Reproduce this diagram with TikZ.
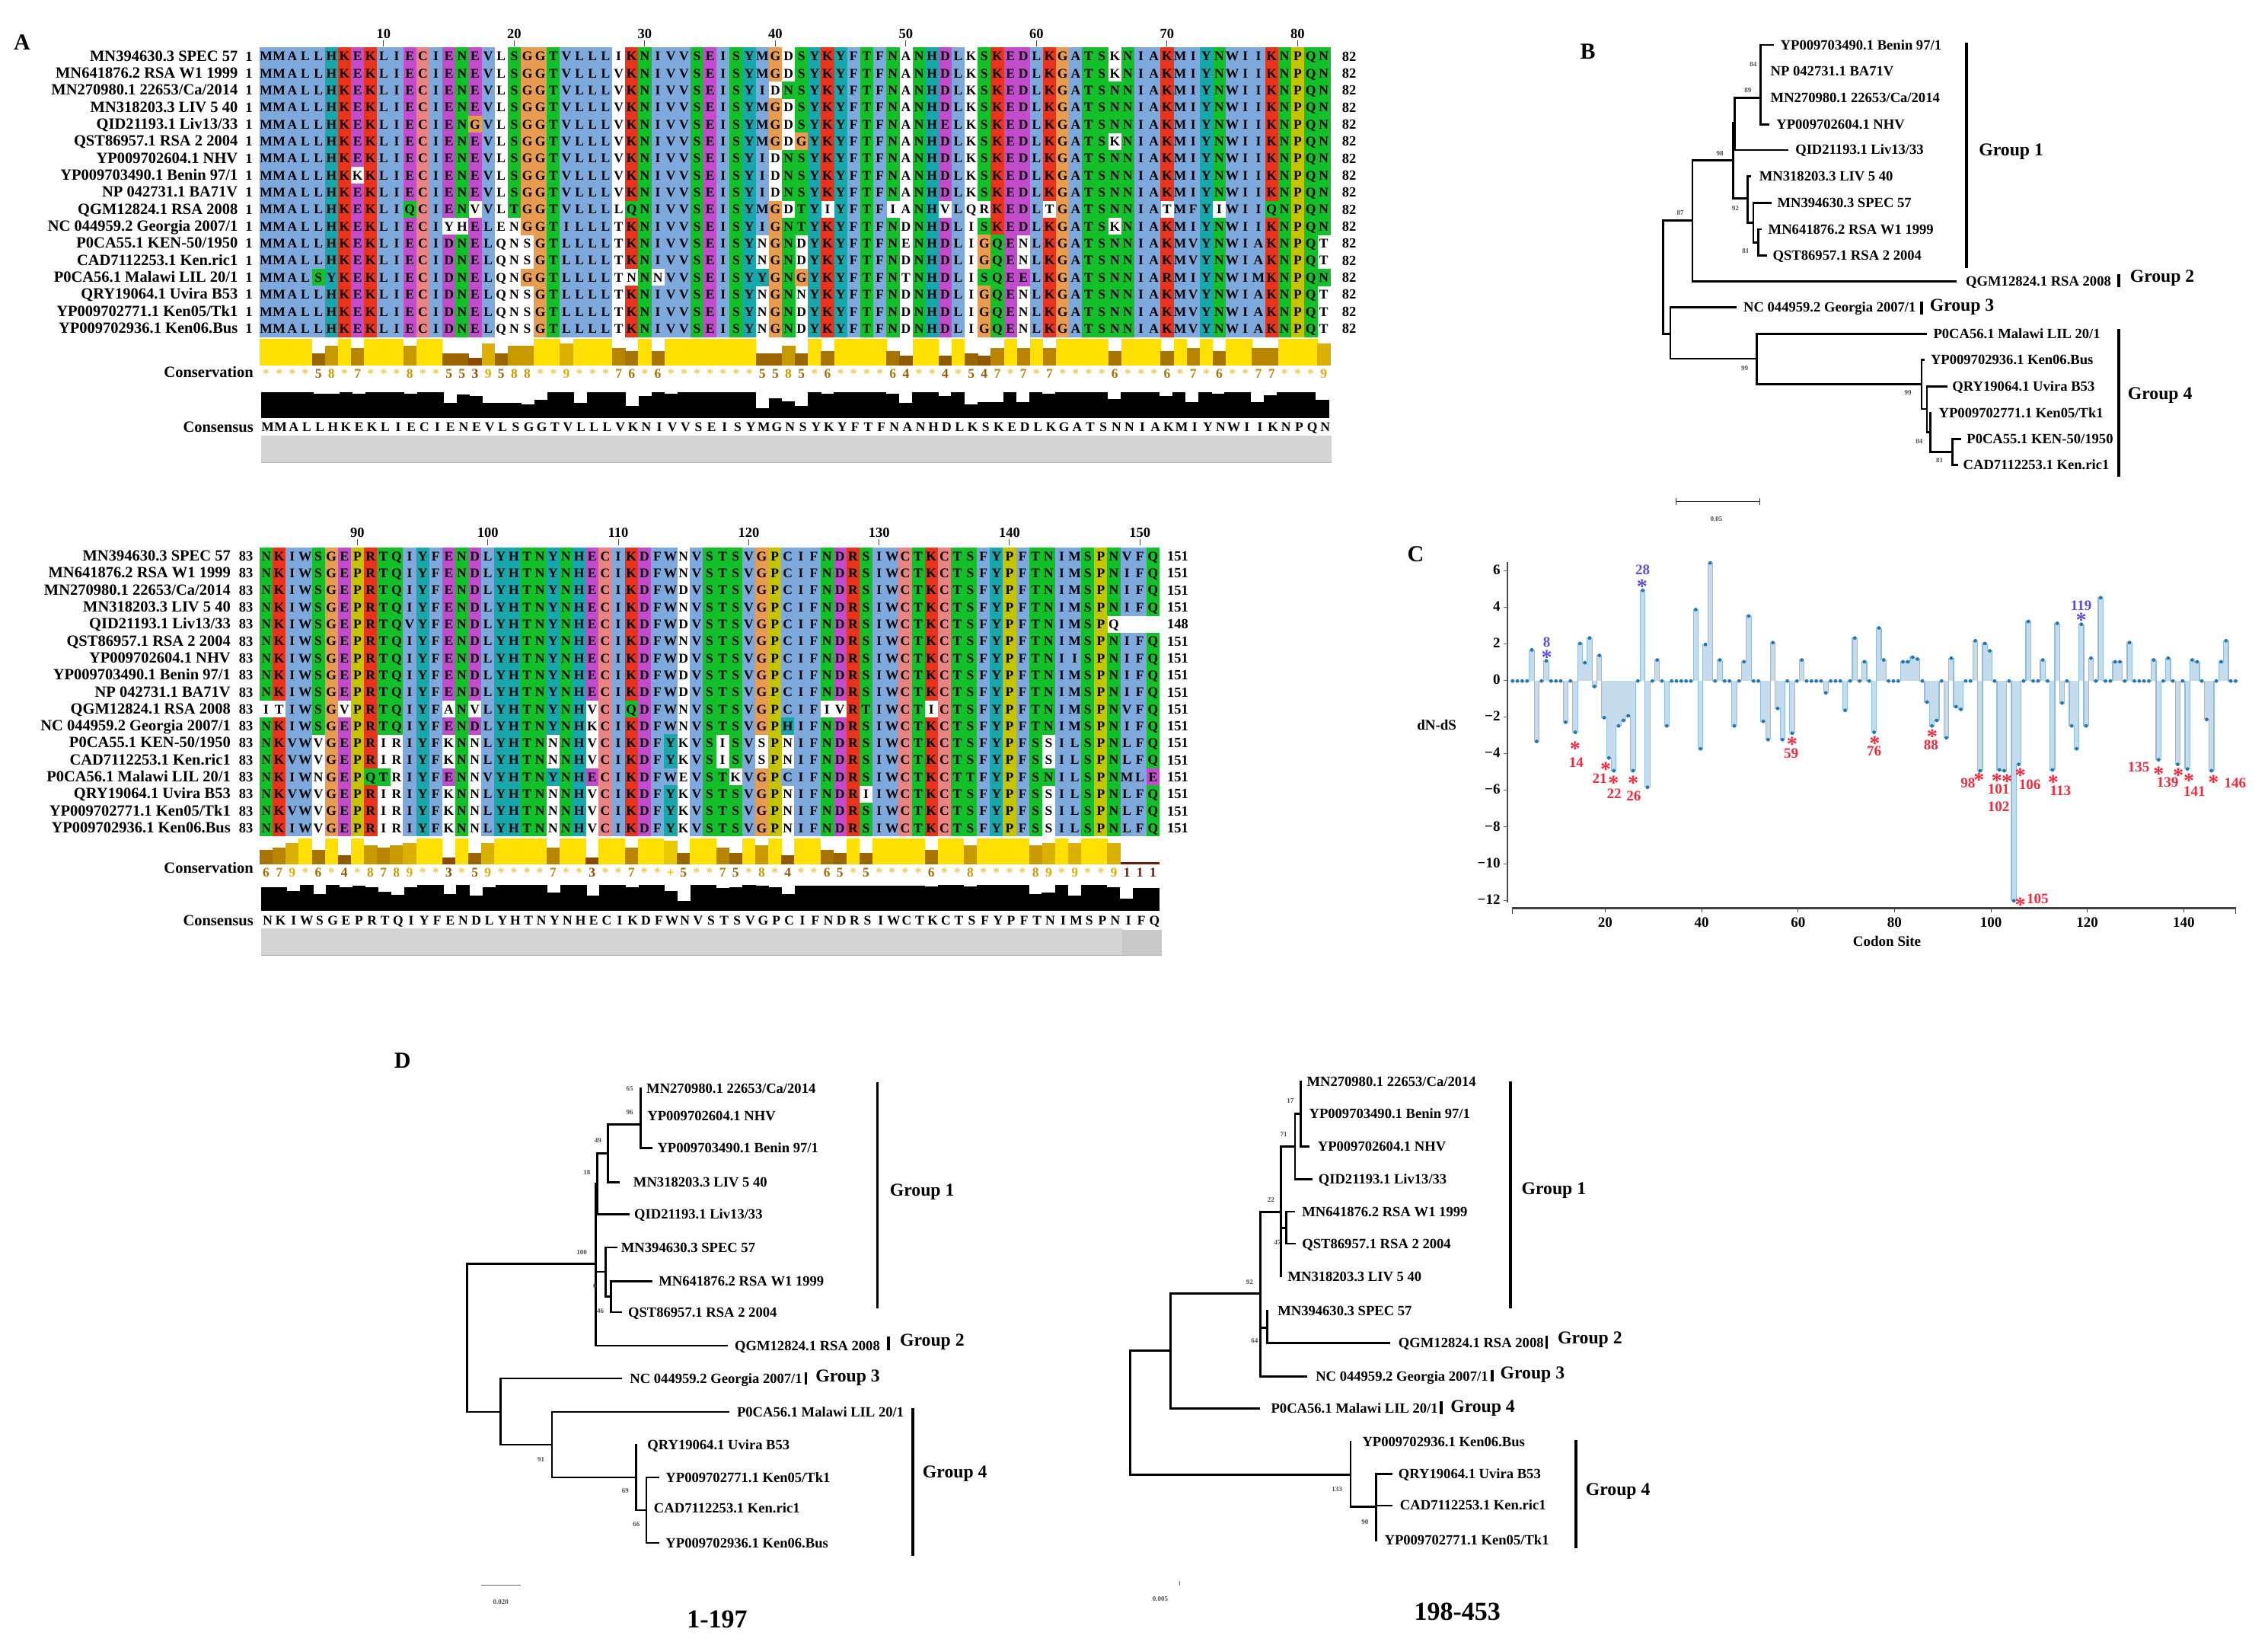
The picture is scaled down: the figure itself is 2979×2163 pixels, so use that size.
\documentclass[tikz,border=0pt]{standalone}
\usepackage{fontspec}
\setmainfont{Liberation Serif}
\definecolor{msab}{HTML}{7DA9DD}\definecolor{msag}{HTML}{14C02A}\definecolor{msar}{HTML}{E8341C}
\definecolor{msam}{HTML}{C24CCC}\definecolor{msao}{HTML}{E89C50}\definecolor{msac}{HTML}{18A8AC}
\definecolor{msay}{HTML}{C4C400}\definecolor{msap}{HTML}{E88484}
\definecolor{cons1}{HTML}{6B1A0A}\definecolor{cons2}{HTML}{7A3000}\definecolor{cons3}{HTML}{8A4A00}
\definecolor{cons4}{HTML}{8F5A00}\definecolor{cons5}{HTML}{9B6500}\definecolor{cons6}{HTML}{A87300}
\definecolor{cons7}{HTML}{B98500}\definecolor{cons8}{HTML}{C89A00}\definecolor{cons9}{HTML}{DCB000}
\definecolor{cons10}{HTML}{ECC800}\definecolor{cons11}{HTML}{FFE000}
\definecolor{txt1}{HTML}{6B1A0A}\definecolor{txt2}{HTML}{7A3000}\definecolor{txt3}{HTML}{8A4A00}
\definecolor{txt4}{HTML}{8F5A00}\definecolor{txt5}{HTML}{9B6500}\definecolor{txt6}{HTML}{A87300}
\definecolor{txt7}{HTML}{B98500}\definecolor{txt8}{HTML}{C89A00}\definecolor{txt9}{HTML}{DCB000}
\definecolor{txt10}{HTML}{ECC800}\definecolor{txt11}{HTML}{EFC850}
\definecolor{chfill}{HTML}{C6DCEC}\definecolor{chline}{HTML}{8FBFE0}\definecolor{chdot}{HTML}{1F77B4}
\definecolor{redst}{HTML}{F8283C}\definecolor{bluest}{HTML}{5A50D8}
\newcount\nid
\newcount\msaC
\tikzset{
 anon/.code={\global\advance\nid by 1\relax\tikzset{name=n\the\nid}},
 resid/.style={anon,inner sep=0pt,anchor=base,font=\fontsize{17.5}{20}\bfseries\selectfont},
 namelab/.style={anon,inner sep=0pt,anchor=base east,font=\fontsize{20.5}{22}\bfseries\selectfont},
 numlab/.style={anon,inner sep=0pt,anchor=base,font=\fontsize{18.5}{22}\bfseries\selectfont},
 panel/.style={anon,inner sep=0pt,font=\fontsize{30}{32}\bfseries\selectfont},
 leaflab/.style={anon,inner sep=0pt,anchor=base west,yshift=-6pt,font=\fontsize{18.6}{20}\bfseries\selectfont},
 grplab/.style={anon,inner sep=0pt,anchor=west,font=\fontsize{23.7}{26}\bfseries\selectfont},
 boot/.style={anon,inner sep=0pt,text=black!70,font=\fontsize{9}{10}\bfseries\selectfont},
 branch/.style={line width=2.8pt,line cap=rect,black},
 grpline/.style={line width=3.6pt,black},
 titlelab/.style={anon,inner sep=0pt,font=\fontsize{34}{36}\bfseries\selectfont},
 clab/.style={anon,inner sep=0pt,font=\fontsize{19}{22}\bfseries\selectfont},
 redlab/.style={anon,inner sep=0pt,text=redst,font=\fontsize{19}{22}\bfseries\selectfont},
 redstar/.style={anon,inner sep=0pt,text=redst,yshift=-5pt,font=\fontsize{28}{30}\bfseries\selectfont},
 bluelab/.style={anon,inner sep=0pt,text=bluest,font=\fontsize{19}{22}\bfseries\selectfont},
 bluestar/.style={anon,inner sep=0pt,text=bluest,yshift=-5pt,font=\fontsize{28}{30}\bfseries\selectfont},
}
% residue colour map: capitals coloured, small letters white
\foreach \u/\l in {A/a,B/b,C/c,D/d,E/e,F/f,G/g,H/h,I/i,J/j,K/k,L/l,M/m,N/n,O/o,P/p,Q/q,R/r,S/s,T/t,U/u,V/v,W/w,X/x,Y/y}{%
 \expandafter\xdef\csname mt@\u\endcsname{\u}\expandafter\xdef\csname mt@\l\endcsname{\u}%
 \expandafter\xdef\csname mc@\l\endcsname{white}}
\def\msawhite{white}
\foreach \u in {A,I,L,M,F,W,V}{\expandafter\gdef\csname mc@\u\endcsname{msab}}
\foreach \u in {K,R}{\expandafter\gdef\csname mc@\u\endcsname{msar}}
\foreach \u in {E,D}{\expandafter\gdef\csname mc@\u\endcsname{msam}}
\foreach \u in {N,Q,S,T}{\expandafter\gdef\csname mc@\u\endcsname{msag}}
\foreach \u in {H,Y}{\expandafter\gdef\csname mc@\u\endcsname{msac}}
\expandafter\gdef\csname mc@G\endcsname{msao}
\expandafter\gdef\csname mc@P\endcsname{msay}
\expandafter\gdef\csname mc@C\endcsname{msap}
\expandafter\gdef\csname mc@Z\endcsname{msab}
\expandafter\gdef\csname mt@Z\endcsname{C}
\def\msacell#1{\advance\msaC by 1\relax
 \ifx#1.\else
  \pgfmathsetmacro\cx{\msaXo+(\the\msaC-1)*\msaW}%
  \edef\cc{\csname mc@#1\endcsname}%
  \ifx\cc\msawhite\else\fill[fill=\cc] (\cx,\msaYo) rectangle ++(\msaW+0.35,\msaH+0.35);\fi
  \node[resid] at (\cx+\msaW/2,\msaYo+\msaH/2+6.2) {\csname mt@#1\endcsname};
 \fi}
\def\msaloop#1{\ifx#1\relax\else\msacell{#1}\expandafter\msaloop\fi}
\def\msarow#1#2{\pgfmathsetmacro\msaYo{\msaTop+(#1-1)*\msaH}\msaC=0\relax\msaloop#2\relax}
% conservation
\foreach \d in {1,...,9}{\expandafter\xdef\csname cv@\d\endcsname{\d}}
\expandafter\gdef\csname cv@*\endcsname{11}
\expandafter\gdef\csname cv@+\endcsname{10}
\def\conscell#1{\advance\msaC by 1\relax
 \edef\cval{\csname cv@#1\endcsname}%
 \pgfmathsetmacro\cx{\msaXo+(\the\msaC-1)*\msaW}%
 \fill[fill=cons\cval] (\cx,\consBase) rectangle ++(\msaW+0.35,-\cval/11*\consH);
 \node[anon,inner sep=0pt,anchor=base,text=txt\cval,font=\fontsize{17.5}{20}\bfseries\selectfont] at (\cx+\msaW/2,\consBase+16.5) {#1};}
\def\consloop#1{\ifx#1\relax\else\conscell{#1}\expandafter\consloop\fi}
\def\lf#1#2#3#4#5{\coordinate (#1) at (#2,#4);\node[leaflab] at (#3,#4) {#5};}
\def\grp#1#2#3#4#5#6{\draw[grpline] (#1,#2) -- (#1,#3);\node[grplab] at (#4,#5) {#6};}
\def\cdata{0,0,0,0,1.7,-3.3,0,1.1,0,0,0,-2.25,0,-2.8,2.05,1.0,2.35,-0.3,1.4,-2.0,-4.2,-4.9,-2.45,-2.15,-1.9,-4.9,0,4.95,-5.8,0,1.15,0,-2.45,0,0,0,0,0,3.9,-3.7,2.0,6.45,0,1.15,0,0,-2.45,0,1.05,3.55,0,0,-2.2,-3.2,2.1,-1.5,-3.2,0,-2.85,0,1.15,0,0,0,0,-0.65,0,0,0,-1.6,0,2.35,0,1.05,0,-2.8,2.9,1.15,0,0,0,1.05,1.05,1.3,1.2,0,-1.15,-2.45,-2.15,0,-3.1,1.25,-1.4,-1.55,0,0,2.2,-4.9,2.05,1.65,0,-4.85,-4.9,0,-12,-4.55,0,3.25,0,0,1.15,0,-4.85,3.15,-1.2,0,-2.45,-3.7,3.1,-2.45,1.25,0,4.55,0,0,1.05,1.05,0,2.1,0,0,0,0,1.15,-4.3,0,1.25,0,-4.55,0,-4.8,1.15,1.05,0,-2.1,-4.9,0,1.05,2.2,0,0}
\begin{document}
\begin{tikzpicture}[x=1pt,y=-1pt]
\useasboundingbox (0,0) rectangle (2979,2163);
\fill[white] (0,0) rectangle (2979,2163);
%% ---------- panel A, block 1
\node[panel] at (29,56) {A};
\def\msaXo{341}\def\msaW{17.15}\def\msaH{22.35}\def\msaTop{62.4}
\msarow{1}{MMALLHKEKL IECIENEVlS GGTVLLLiKN IVVSEISYMG dSYKYFTFNa NHDLkSKEDL KGATSkNIAK MIYNWIIKNP QN}
\msarow{2}{MMALLHKEKL IECIENEVlS GGTVLLLvKN IVVSEISYMG dSYKYFTFNa NHDLkSKEDL KGATSkNIAK MIYNWIIKNP QN}
\msarow{3}{MMALLHKEKL IECIENEVlS GGTVLLLvKN IVVSEISYId NSYKYFTFNa NHDLkSKEDL KGATSNNIAK MIYNWIIKNP QN}
\msarow{4}{MMALLHKEKL IECIENEVlS GGTVLLLvKN IVVSEISYMG dSYKYFTFNa NHDLkSKEDL KGATSNNIAK MIYNWIIKNP QN}
\msarow{5}{MMALLHKEKL IECIENGVlS GGTVLLLvKN IVVSEISYMG dSYKYFTFNa NHELkSKEDL KGATSNNIAK MIYNWIIKNP QN}
\msarow{6}{MMALLHKEKL IECIENEVlS GGTVLLLvKN IVVSEISYMG dGYKYFTFNa NHDLkSKEDL KGATSkNIAK MIYNWIIKNP QN}
\msarow{7}{MMALLHKEKL IECIENEVlS GGTVLLLvKN IVVSEISYId NSYKYFTFNa NHDLkSKEDL KGATSNNIAK MIYNWIIKNP QN}
\msarow{8}{MMALLHKkKL IECIENEVlS GGTVLLLvKN IVVSEISYId NSYKYFTFNa NHDLkSKEDL KGATSNNIAK MIYNWIIKNP QN}
\msarow{9}{MMALLHKEKL IECIENEVlS GGTVLLLvKN IVVSEISYId NSYKYFTFNa NHDLkSKEDL KGATSNNIAK MIYNWIIKNP QN}
\msarow{10}{MMALLHKEKL IQCIENvVlT GGTVLLLlQN IVVSEISYMG dTYiYFTFia NHvLqrKEDL tGATSNNIAt MFYiWIIQNP QN}
\msarow{11}{MMALLHKEKL IECIyhELen GGTILLLtKN IVVSEISYIG NTYKYFTFNd NHDLiSKEDL KGATSkNIAK MIYNWIIKNP QN}
\msarow{12}{MMALLHKEKL IECIDNELqn sGTLLLLtKN IVVSEISYnG NdYKYFTFNe NHDLiGQEnL KGATSNNIAK MVYNWIAKNP Qt}
\msarow{13}{MMALLHKEKL IECIDNELqn sGTLLLLtKN IVVSEISYnG NdYKYFTFNd NHDLiGQEnL KGATSNNIAK MVYNWIAKNP Qt}
\msarow{14}{MMALSYKEKL IECIDNELqn GGTLLLLtnN nVVSEISYYG NGYKYFTFNt NHDLiSQEEL KGATSNNIAR MIYNWIMKNP QN}
\msarow{15}{MMALLHKEKL IECIDNELqn sGTLLLLtKN IVVSEISYnG NnYKYFTFNd NHDLiGQEnL KGATSNNIAK MVYNWIAKNP Qt}
\msarow{16}{MMALLHKEKL IECIDNELqn sGTLLLLtKN IVVSEISYnG NdYKYFTFNd NHDLiGQEnL KGATSNNIAK MVYNWIAKNP Qt}
\msarow{17}{MMALLHKEKL IECIDNELqn sGTLLLLtKN IVVSEISYnG NdYKYFTFNd NHDLiGQEnL KGATSNNIAK MVYNWIAKNP Qt}
\foreach \t [count=\i] in {MN394630.3 SPEC 57,MN641876.2 RSA W1 1999,MN270980.1 22653/Ca/2014,MN318203.3 LIV 5 40,QID21193.1 Liv13/33,QST86957.1 RSA 2 2004,YP009702604.1 NHV,YP009703490.1 Benin 97/1,NP 042731.1 BA71V,QGM12824.1 RSA 2008,NC 044959.2 Georgia 2007/1,P0CA55.1 KEN-50/1950,CAD7112253.1 Ken.ric1,P0CA56.1 Malawi LIL 20/1,QRY19064.1 Uvira B53,YP009702771.1 Ken05/Tk1,YP009702936.1 Ken06.Bus}{
 \node[namelab] at (312.5,62.4+\i*22.35-11.2+6.5) {\t};
 \node[numlab] at (327,62.4+\i*22.35-11.2+6.5) {1};
 \node[numlab] at (1772,62.4+\i*22.35-11.2+6.5) {82};
}
\foreach \k in {10,20,...,80}{
 \pgfmathsetmacro\tx{341+(\k-0.5)*17.15}
 \draw[line width=1pt,black!70] (\tx,52.6) -- (\tx,60.8);
 \node[numlab] at (\tx,50) {\k};
}
\def\consBase{480}\def\consH{35.5}\msaC=0\relax
\consloop****58*7***8**55395 88**9***76*6*******55 85*6****64**4*547*7*7****6***6*7*6**77***9\relax
\foreach \d [count=\i] in {0,0,0,0,6,6,0,6,0,0,0,6,0,0,36,8,13,36,36,36,40,26,0,0,36,0,0,0,46,13,0,6,0,0,0,0,0,0,53,21,31,46,0,6,0,0,0,0,6,36,0,0,13,0,40,33,33,0,33,0,6,0,0,0,0,23,0,0,0,13,0,33,0,6,0,0,33,10,0,0,0,26}{
 \fill[black] (343+\i*17.1-17.1,549.4) rectangle ++(17.45,-34.7+\d/2.45);
}
\node[namelab] at (333,495) {Conservation};
\node[namelab] at (333,567) {Consensus};
\def\msaXo{343}\def\msaTop{549.6}
\msarow{1}{mmallhkekl iecienevls ggtvlllvkn ivvseisymg nsykyftfna nhdlkskedl kgatsnniak miynwiiknp qn}
\fill[black!17] (343,572) rectangle (1749,607.7);
\draw[line width=1.5pt,black!30] (343,607.7) -- (1749,607.7);
%% ---------- panel A, block 2
\def\msaXo{341}\def\msaW{17.13}\def\msaH{22.3}\def\msaTop{719}
\msarow{1}{NKIWSGEPRT QIYFENDLYH TNYNHECIKD FWnVSTSVGP ZIFNDRSIWC TKCTSFYPFT NIMSPNVFQ}
\msarow{2}{NKIWSGEPRT QIYFENDLYH TNYNHECIKD FWnVSTSVGP ZIFNDRSIWC TKCTSFYPFT NIMSPNIFQ}
\msarow{3}{NKIWSGEPRT QIYFENDLYH TNYNHECIKD FWdVSTSVGP ZIFNDRSIWC TKCTSFYPFT NIMSPNIFQ}
\msarow{4}{NKIWSGEPRT QIYFENDLYH TNYNHECIKD FWnVSTSVGP ZIFNDRSIWC TKCTSFYPFT NIMSPNIFQ}
\msarow{5}{NKIWSGEPRT QVYFENDLYH TNYNHECIKD FWdVSTSVGP ZIFNDRSIWC TKCTSFYPFT NIMSPq...}
\msarow{6}{NKIWSGEPRT QIYFENDLYH TNYNHECIKD FWnVSTSVGP ZIFNDRSIWC TKCTSFYPFT NIMSPNIFQ}
\msarow{7}{NKIWSGEPRT QIYFENDLYH TNYNHECIKD FWdVSTSVGP ZIFNDRSIWC TKCTSFYPFT NIISPNIFQ}
\msarow{8}{NKIWSGEPRT QIYFENDLYH TNYNHECIKD FWdVSTSVGP ZIFNDRSIWC TKCTSFYPFT NIMSPNIFQ}
\msarow{9}{NKIWSGEPRT QIYFENDLYH TNYNHECIKD FWdVSTSVGP ZIFNDRSIWC TKCTSFYPFT NIMSPNIFQ}
\msarow{10}{itIWSGvPRT QIYFaNvLYH TNYNHvCIQD FWnVSTSVGP ZIFivRTIWC TiCTSFYPFT NIMSPNVFQ}
\msarow{11}{NKIWSGEPRT QIYFENDLYH TNYNHkCIKD FWnVSTSVGP HIFNDRSIWC TKCTSFYPFT NIMSPNIFQ}
\msarow{12}{NKVWvGEPRi rIYFkNnLYH TNnNHvCIKD FYkVSiSVsP nIFNDRSIWC TKCTSFYPFS sILSPNLFQ}
\msarow{13}{NKVWvGEPRi rIYFkNnLYH TNnNHvCIKD FYkVSiSVsP nIFNDRSIWC TKCTSFYPFS sILSPNLFQ}
\msarow{14}{NKIWnGEPQT rIYFENnVYH TNYNHECIKD FWeVSTkVGP ZIFNDRSIWC TKCTTFYPFS NILSPNMLE}
\msarow{15}{NKVWvGEPRi rIYFkNnLYH TNnNHvCIKD FYkVSTSVGP nIFNDRiIWC TKCTSFYPFS sILSPNLFQ}
\msarow{16}{NKVWvGEPRi rIYFkNnLYH TNnNHvCIKD FYkVSTSVGP nIFNDRSIWC TKCTSFYPFS sILSPNLFQ}
\msarow{17}{NKIWvGEPRi rIYFkNnLYH TNnNHvCIKD FYkVSTSVGP nIFNDRSIWC TKCTSFYPFS sILSPNLFQ}
\foreach \t [count=\i] in {MN394630.3 SPEC 57,MN641876.2 RSA W1 1999,MN270980.1 22653/Ca/2014,MN318203.3 LIV 5 40,QID21193.1 Liv13/33,QST86957.1 RSA 2 2004,YP009702604.1 NHV,YP009703490.1 Benin 97/1,NP 042731.1 BA71V,QGM12824.1 RSA 2008,NC 044959.2 Georgia 2007/1,P0CA55.1 KEN-50/1950,CAD7112253.1 Ken.ric1,P0CA56.1 Malawi LIL 20/1,QRY19064.1 Uvira B53,YP009702771.1 Ken05/Tk1,YP009702936.1 Ken06.Bus}{
 \node[namelab] at (303,719+\i*22.3-11.2+6.5) {\t};
 \node[numlab] at (323,719+\i*22.3-11.2+6.5) {83};
}
\foreach \e [count=\i] in {151,151,151,151,148,151,151,151,151,151,151,151,151,151,151,151,151}{
 \node[numlab] at (1547,719+\i*22.3-11.2+6.5) {\e};
}
\foreach \k in {90,100,...,150}{
 \pgfmathsetmacro\tx{341+(\k-82.5)*17.13}
 \draw[line width=1pt,black!70] (\tx,707.5) -- (\tx,716);
 \node[numlab] at (\tx,705) {\k};
}
\def\consBase{1135.3}\def\consH{34.7}\msaC=0\relax
\consloop679*6*4*87 89**3*59** **7**3**7* *+5**75*8* 4**65*5*** *6**8****8 9*9**9111\relax
\foreach \d [count=\i] in {7,7,20,0,30,0,7,3,7,23,33,7,0,0,30,0,35,7,0,0,0,0,25,0,0,35,0,0,7,0,0,20,53,0,0,10,7,0,3,7,30,2,2,2,2,2,2,2,2,2,2,5,0,0,5,0,0,0,0,30,25,0,35,0,0,7,45,10,10}{
 \fill[black] (343+\i*17.09-17.09,1195.7) rectangle ++(17.4,-33.9+\d/2.45);
}
\node[namelab] at (333,1146) {Conservation};
\node[namelab] at (333,1215) {Consensus};
\def\msaXo{343}\def\msaTop{1197.6}
\msarow{1}{nkiwsgeprt qiyfendlyh tnynhecikd fwnvstsvgp cifndrsiwc tkctsfypft nimspnifq}
\fill[black!17] (343,1219) rectangle (1474,1254.5);
\fill[black!21] (1474,1221) rectangle (1526,1254.5);
\draw[line width=1.5pt,black!30] (343,1254.5) -- (1526,1254.5);
%% ---------- panel B
\begin{scope}[shift={(2050,20)},x=0.5924pt,y=-0.4337pt]
\node[panel] at (60,110) {B};
\lf{bBen}{470}{487}{90}{YP009703490.1 Benin 97/1}
\lf{bNP}{443}{465}{170}{NP 042731.1 BA71V}
\lf{bMN27}{443}{465}{250}{MN270980.1 22653/Ca/2014}
\lf{bNHV}{460}{478}{330}{YP009702604.1 NHV}
\lf{bQID}{503}{520}{408}{QID21193.1 Liv13/33}
\lf{bMN31}{420}{440}{488}{MN318203.3 LIV 5 40}
\lf{bSPEC}{466}{480}{568}{MN394630.3 SPEC 57}
\lf{bW1}{443}{460}{648}{MN641876.2 RSA W1 1999}
\lf{bQST}{455}{470}{727}{QST86957.1 RSA 2 2004}
\lf{bQGM}{875}{898}{805}{QGM12824.1 RSA 2008}
\lf{bNC}{388}{405}{885}{NC 044959.2 Georgia 2007/1}
\lf{bP56}{810}{826}{965}{P0CA56.1 Malawi LIL 20/1}
\lf{b936}{805}{820}{1044}{YP009702936.1 Ken06.Bus}
\lf{bQRY}{855}{868}{1124}{QRY19064.1 Uvira B53}
\lf{b771}{820}{838}{1204}{YP009702771.1 Ken05/Tk1}
\lf{bP55}{885}{900}{1283}{P0CA55.1 KEN-50/1950}
\lf{bCAD}{878}{892}{1362}{CAD7112253.1 Ken.ric1}
\coordinate (br) at (227,965);\coordinate (ba) at (292,622);\coordinate (bb) at (382,440);
\coordinate (bc) at (385,325);\coordinate (bd) at (443,250);\coordinate (be) at (415,555);
\coordinate (bf) at (427,628);\coordinate (bg) at (438,688);\coordinate (bh) at (243,965);
\coordinate (bi) at (435,1040);\coordinate (bj) at (800,1118);\coordinate (bk) at (812,1192);
\coordinate (bm) at (820,1262);\coordinate (bl) at (868,1322);
\foreach \p/\c in {br/ba,br/bh,ba/bb,ba/bQGM,bb/bc,bb/be,bc/bd,bc/bQID,bd/bBen,bd/bNP,bd/bMN27,bd/bNHV,be/bMN31,be/bf,bf/bSPEC,bf/bg,bg/bW1,bg/bQST,bh/bNC,bh/bi,bi/bP56,bi/bj,bj/b936,bj/bk,bk/bQRY,bk/bm,bm/b771,bm/bl,bl/bP55,bl/bCAD}{
 \draw[branch] (\p) |- (\c);
}
\foreach \x/\y/\t in {427/148/84,415/228/89,353/418/98,265/598/87,387/585/92,410/714/81,408/1068/99,770/1143/99,795/1290/84,840/1348/81}{\node[boot] at (\x,\y) {\t};}
\grp{900}{83}{765}{927}{412}{Group 1}
\grp{1237}{785}{822}{1262}{797}{Group 2}
\grp{800}{868}{905}{818}{883}{Group 3}
\grp{1237}{950}{1397}{1257}{1152}{Group 4}
\coordinate (bs1) at (255,1472);\coordinate (bs2) at (442,1472);
\draw[line width=1.2pt,black!80,|-|] (bs1) -- (bs2);
\node[boot] at (345,1525) {0.05};
\end{scope}
%% ---------- panel C
\begin{scope}[shift={(1830,700)},x=0.7328pt,y=-0.37pt]
\node[panel] at (40,75) {C};
\foreach \v [count=\s] in \cdata {
 \pgfmathsetmacro\xx{378+(\s-20)*8.64}
 \pgfmathsetmacro\yy{525-65*\v}
 \fill[chfill] (\xx-4.42,525) rectangle (\xx+4.42,\yy);
}
\foreach \v [count=\s,remember=\v as \vp (initially 0)] in \cdata {
 \pgfmathsetmacro\xx{378+(\s-20)*8.64}
 \pgfmathsetmacro\yy{525-65*\v}
 \pgfmathsetmacro\yp{525-65*\vp}
 \draw[chline,line width=1.2pt] (\xx-4.32,\yp) -- (\xx-4.32,\yy) -- (\xx+4.32,\yy);
}
\foreach \v [count=\s] in \cdata {
 \pgfmathsetmacro\xx{378+(\s-20)*8.64}
 \pgfmathsetmacro\yy{525-65*\v}
 \fill[chdot] (\xx,\yy) circle[radius=2.4pt];
}
\coordinate (cy1) at (205,103);\coordinate (cy2) at (205,1310);
\draw[line width=1.6pt,black!70] (cy1) -- (cy2);
\foreach \v/\t in {6/6,4/4,2/2,0/0,-2/−2,-4/−4,-6/−6,-8/−8,-10/−10,-12/−12}{
 \pgfmathsetmacro\yy{520-65*\v}
 \draw[line width=1pt,black!60] (198,\yy+3) -- (205,\yy+3);
 \node[clab,anchor=east] at (192,\yy) {\t};
}
\coordinate (cx1) at (213,1330);\coordinate (cx2) at (1510,1330);
\draw[line width=3pt,black!75] (cx1) -- (cx2);
\draw[line width=1pt,black!75] (213,1330) -- (213,1350) (1510,1330) -- (1510,1350);
\foreach \k in {20,40,...,140}{
 \pgfmathsetmacro\xx{380+(\k-20)*8.64}
 \draw[line width=1pt,black!75] (\xx,1330) -- (\xx,1345);
 \node[clab] at (\xx,1382) {\k};
}
\node[clab] at (885,1448) {Codon Site};
\node[clab] at (78,682) {dN-dS};
\foreach \x/\y in {275/428,446/177,1233/296}{\node[bluestar] at (\x,\y) {*};}
\foreach \x/\y/\t in {275/388/8,447/130/28,1233/258/119}{\node[bluelab] at (\x,\y) {\t};}
\foreach \x/\y in {326/752,381/825,395/873,430/875,715/737,863/732,966/710,1050/862,1082/865,1100/867,1124/847,1183/870,1372/842,1407/847,1426/866,1470/872,1124/1305}{\node[redstar] at (\x,\y) {*};}
\foreach \x/\y/\t in {328/815/14,370/870/21,396/925/22,431/932/26,713/783/59,862/775/76,964/753/88,1030/888/98,1085/910/101,1085/970/102,1141/893/106,1196/914/113,1336/830/135,1388/885/139,1436/918/141,1509/886/146,1155/1298/105}{\node[redlab] at (\x,\y) {\t};}
\end{scope}
%% ---------- panel D, left tree
\begin{scope}[shift={(500,1370)},x=0.574pt,y=-0.5058pt]
\node[panel] at (50,45) {D};
\lf{lMN27}{595}{608}{118}{MN270980.1 22653/Ca/2014}
\lf{lNHV}{595}{610}{188}{YP009702604.1 NHV}
\lf{lBen}{620}{633}{272}{YP009703490.1 Benin 97/1}
\lf{lMN31}{545}{578}{360}{MN318203.3 LIV 5 40}
\lf{lQID}{568}{580}{444}{QID21193.1 Liv13/33}
\lf{lSPEC}{540}{550}{530}{MN394630.3 SPEC 57}
\lf{lW1}{620}{636}{617}{MN641876.2 RSA W1 1999}
\lf{lQST}{550}{566}{698}{QST86957.1 RSA 2 2004}
\lf{lQGM}{792}{810}{785}{QGM12824.1 RSA 2008}
\lf{lNC}{550}{570}{870}{NC 044959.2 Georgia 2007/1}
\lf{lP56}{795}{815}{957}{P0CA56.1 Malawi LIL 20/1}
\lf{lQRY}{585}{610}{1042}{QRY19064.1 Uvira B53}
\lf{l771}{635}{652}{1127}{YP009702771.1 Ken05/Tk1}
\lf{lCAD}{608}{625}{1207}{CAD7112253.1 Ken.ric1}
\lf{l936}{635}{652}{1297}{YP009702936.1 Ken06.Bus}
\coordinate (lr) at (198,957);\coordinate (la) at (492,573);\coordinate (lp) at (495,365);
\coordinate (lq) at (520,285);\coordinate (lu) at (595,210);\coordinate (ls) at (515,593);
\coordinate (lv) at (527,657);\coordinate (ln) at (275,957);\coordinate (lw) at (392,1042);
\coordinate (lx) at (585,1127);\coordinate (ly) at (608,1212);
\foreach \p/\c in {lr/la,lr/ln,la/lQGM,la/lp,la/ls,lp/lq,lp/lQID,lq/lu,lq/lMN31,lu/lMN27,lu/lNHV,lu/lBen,ls/lSPEC,ls/lv,lv/lW1,lv/lQST,ln/lNC,ln/lw,lw/lP56,lw/lx,lx/lQRY,lx/ly,ly/l771,ly/lCAD,ly/l936}{
 \draw[branch] (\p) |- (\c);
}
\foreach \x/\y/\t in {570/117/65,570/180/96,497/253/49,472/335/18,460/543/100,490/630/6,503/695/46,367/1080/91,560/1162/69,585/1248/66}{\node[boot] at (\x,\y) {\t};}
\grp{1137}{100}{688}{1165}{385}{Group 1}
\grp{1162}{762}{797}{1188}{776}{Group 2}
\grp{973}{855}{885}{995}{868}{Group 3}
\grp{1218}{947}{1330}{1240}{1118}{Group 4}
\coordinate (ls1) at (230,1407);\coordinate (ls2) at (320,1407);
\draw[line width=1pt,black!60] (ls1) -- (ls2);
\node[boot] at (275,1450) {0.020};
\node[titlelab] at (770,1495) {1-197};
\end{scope}
%% ---------- panel D, right tree
\begin{scope}[shift={(1450,1370)},x=0.5102pt,y=-0.5058pt]
\lf{rMN27}{507}{522}{100}{MN270980.1 22653/Ca/2014}
\lf{rBen}{507}{528}{183}{YP009703490.1 Benin 97/1}
\lf{rNHV}{527}{550}{268}{YP009702604.1 NHV}
\lf{rQID}{535}{552}{353}{QID21193.1 Liv13/33}
\lf{rW1}{490}{510}{437}{MN641876.2 RSA W1 1999}
\lf{rQST}{492}{510}{520}{QST86957.1 RSA 2 2004}
\lf{rMN31}{455}{473}{605}{MN318203.3 LIV 5 40}
\lf{rSPEC}{420}{447}{695}{MN394630.3 SPEC 57}
\lf{rQGM}{735}{758}{778}{QGM12824.1 RSA 2008}
\lf{rNC}{520}{545}{865}{NC 044959.2 Georgia 2007/1}
\lf{rP56}{400}{430}{948}{P0CA56.1 Malawi LIL 20/1}
\lf{r936}{635}{665}{1035}{YP009702936.1 Ken06.Bus}
\lf{rQRY}{740}{758}{1118}{QRY19064.1 Uvira B53}
\lf{rCAD}{740}{762}{1200}{CAD7112253.1 Ken.ric1}
\lf{r771}{700}{722}{1290}{YP009702771.1 Ken05/Tk1}
\coordinate (rr) at (68,1120);\coordinate (ra) at (172,798);\coordinate (rb) at (635,1120);
\coordinate (rc) at (403,650);\coordinate (rd) at (420,738);\coordinate (re) at (455,438);
\coordinate (rf) at (492,268);\coordinate (rg) at (470,480);\coordinate (rh) at (507,183);
\coordinate (ri) at (700,1203);
\foreach \p/\c in {rr/ra,rr/rb,ra/rP56,ra/rc,rc/rNC,rc/rd,rc/re,rd/rSPEC,rd/rQGM,re/rMN31,re/rf,re/rg,rf/rQID,rf/rh,rh/rMN27,rh/rBen,rh/rNHV,rg/rW1,rg/rQST,rb/r936,rb/ri,ri/rQRY,ri/rCAD,ri/r771}{
 \draw[branch] (\p) |- (\c);
}
\foreach \x/\y/\t in {480/150/17,463/237/71,430/407/22,375/620/92,447/517/47,388/773/64,600/1157/133,672/1242/90}{\node[boot] at (\x,\y) {\t};}
\grp{1047}{98}{687}{1075}{382}{Group 1}
\grp{1140}{760}{792}{1168}{770}{Group 2}
\grp{1000}{848}{878}{1020}{860}{Group 3}
\grp{868}{930}{962}{892}{947}{Group 4}
\grp{1215}{1030}{1310}{1240}{1163}{Group 4}
\coordinate (rs1) at (195,1395);\coordinate (rs2) at (195,1408);
\draw[line width=1pt,black!60] (rs1) -- (rs2);
\node[boot] at (145,1443) {0.005};
\node[titlelab] at (910,1475) {198-453};
\end{scope}
\end{tikzpicture}
\end{document}
